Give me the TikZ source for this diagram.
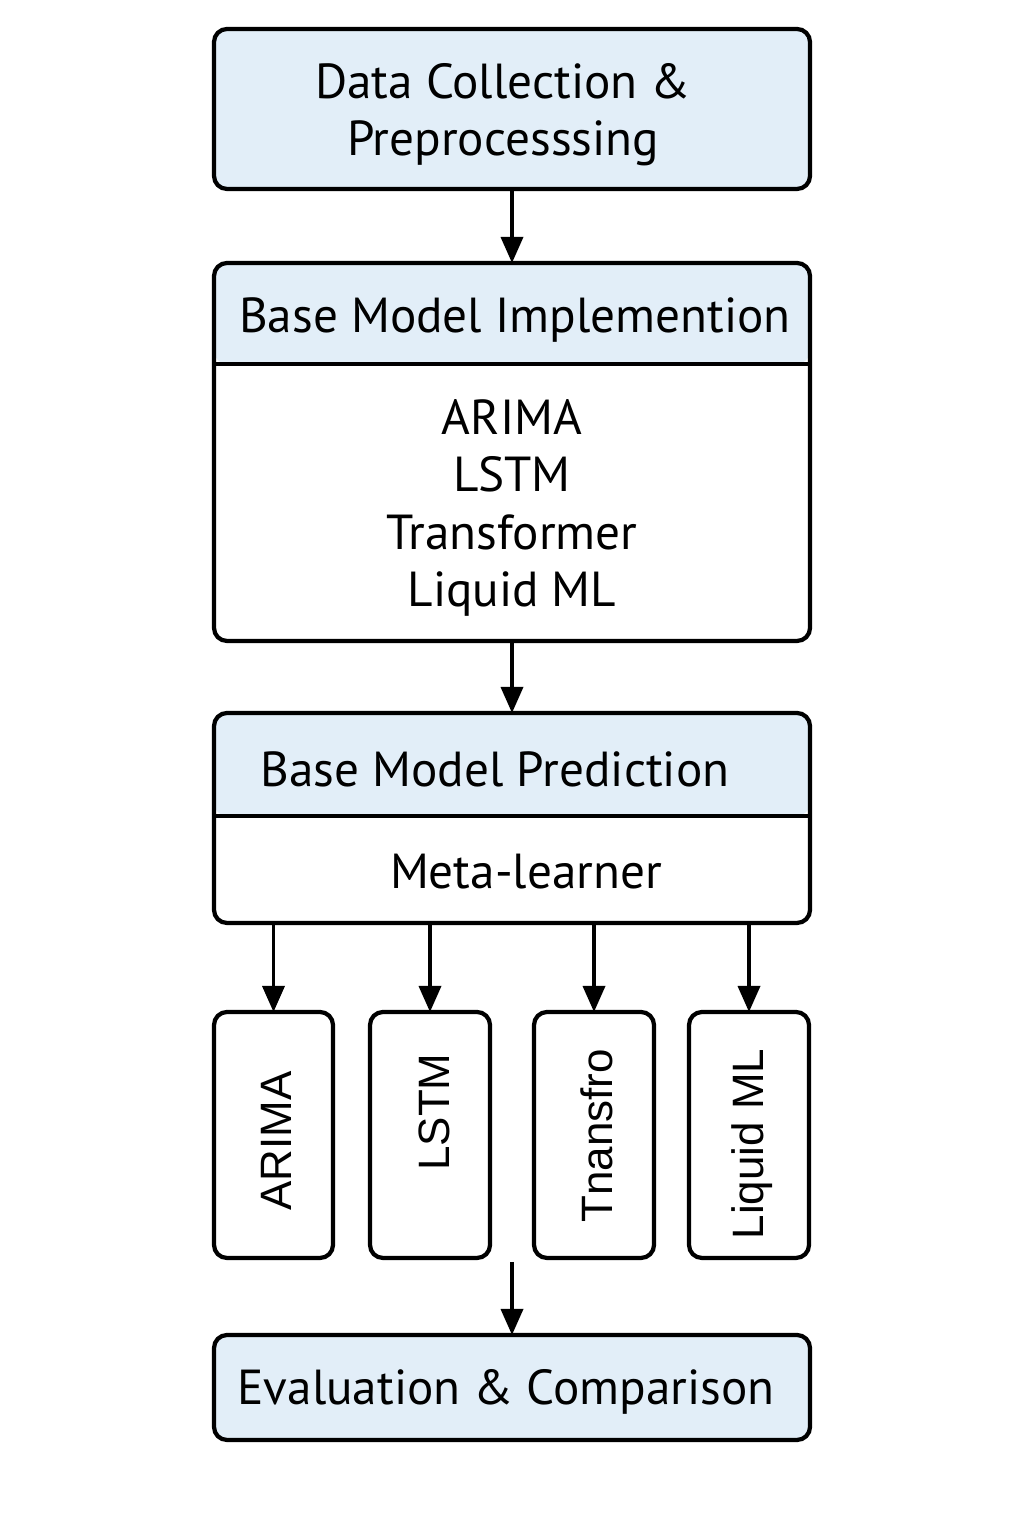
\documentclass[tikz,border=0pt]{standalone}
\usepackage{fontspec}
\setmainfont{PT Sans}
\newfontfamily\vertfont{Liberation Sans}
\usetikzlibrary{arrows.meta}
\definecolor{hdrblue}{HTML}{E2EEF8}
\begin{document}
\begin{tikzpicture}[
  box/.style={draw,line width=1.2pt,rounded corners=0.13cm,minimum width=5.96cm,inner sep=0pt,outer sep=0pt},
  small/.style={draw,line width=1.2pt,rounded corners=0.13cm,minimum width=1.2cm,minimum height=2.46cm,inner sep=0pt,outer sep=0pt},
  head/.style={path picture={\fill[hdrblue] (path picture bounding box.north west) rectangle ([yshift=-#1]path picture bounding box.north east);}},
  txt/.style={font=\fontsize{14}{16.3}\selectfont,align=center,inner sep=0pt},
  vtxt/.style={font=\vertfont\fontsize{12.5}{14}\selectfont,rotate=90,inner sep=0pt},
  arr/.style={line width=1pt,-{Triangle[width=2.2mm,length=2.6mm]}},
]
\useasboundingbox (0,0) rectangle (10.24,15.36);
%
% stages
\node[box,fill=hdrblue,minimum height=1.60cm] (data) at (5.12,14.27) {};
\node[txt] (datatxt) at (5.03,14.21) {Data Collection \&\\Preprocesssing};
%
\node[box,head=1.01cm,minimum height=3.78cm] (impl) at (5.12,10.84) {};
\draw[line width=1.2pt] ([yshift=-1.01cm]impl.north west) -- ([yshift=-1.01cm]impl.north east);
\node[txt] (impltxt) at (5.15,12.16) {Base Model Implemention};
\node[txt] (impllist) at (5.12,10.28) {ARIMA\\LSTM\\Transformer\\Liquid ML};
%
\node[box,head=1.03cm,minimum height=2.10cm] (pred) at (5.12,7.18) {};
\draw[line width=1.2pt] ([yshift=-1.03cm]pred.north west) -- ([yshift=-1.03cm]pred.north east);
\node[txt] (predtxt) at (4.95,7.67) {Base Model Prediction};
\node[txt] (meta) at (5.26,6.64) {Meta-learner};
%
% base models
\node[small,minimum width=1.19cm] (arima) at (2.735,4.01) {};
\node[small] (lstm) at (4.30,4.01) {};
\node[small] (trans) at (5.94,4.01) {};
\node[small] (liquid) at (7.49,4.01) {};
\node[vtxt] (arimatxt) at (2.76,3.95) {ARIMA};
\node[vtxt] (lstmtxt) at (4.34,4.24) {LSTM};
\node[vtxt] (transtxt) at (5.97,4.00) {Tnansfro};
\node[vtxt] (liquidtxt) at (7.52,3.92) {Liquid ML};
%
\node[box,fill=hdrblue,minimum height=1.05cm] (eval) at (5.12,1.485) {};
\node[txt] (evaltxt) at (5.06,1.44) {Evaluation \& Comparison};
%
% connectors
\draw[arr] (data.south) -- (impl.north);
\draw[arr] (impl.south) -- (pred.north);
\draw[arr] (arima.north |- pred.south) -- (arima.north);
\draw[arr] (lstm.north |- pred.south) -- (lstm.north);
\draw[arr] (trans.north |- pred.south) -- (trans.north);
\draw[arr] (liquid.north |- pred.south) -- (liquid.north);
\coordinate (join) at (5.12,2.74);
\draw[arr] (join) -- (eval.north);
\end{tikzpicture}
\end{document}
